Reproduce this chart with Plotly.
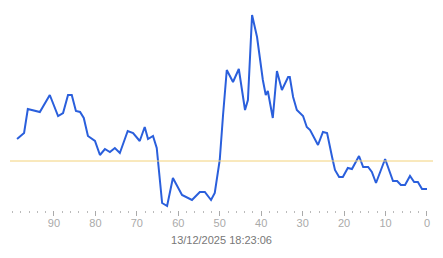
import plotly.graph_objects as go

# seconds ago (x) and measured value (y)
ages = [98.9, 97.2, 96.3, 94.6, 93.4, 91.0, 89.0, 87.8, 86.6, 85.7, 84.7, 83.7, 82.8,
        81.8, 80.1, 78.9, 77.7, 76.5, 75.3, 74.1, 72.2, 70.9, 69.3, 68.1, 67.3, 66.1,
        65.2, 63.9, 62.7, 61.3, 59.1, 56.7, 54.8, 53.6, 52.1, 51.2, 50.0, 49.2, 48.3,
        46.8, 45.4, 43.9, 43.2, 42.2, 41.0, 39.6, 38.9, 38.4, 37.2, 36.2, 35.0, 33.5,
        33.1, 32.3, 31.4, 29.9, 29.0, 28.2, 26.3, 25.1, 24.1, 22.9, 22.2, 21.2, 20.3,
        19.1, 18.1, 16.4, 15.4, 14.2, 13.3, 12.3, 10.1, 8.2, 7.2, 6.3, 5.3, 4.1, 3.1,
        2.2, 1.2, 0.0]
values = [71, 77, 101, 99, 98, 115, 94, 97, 115, 115, 99, 98, 92,
          74, 69, 55, 61, 58, 62, 57, 79, 77, 69, 83, 71, 74,
          62, 7, 4, 32, 15, 10, 18, 18, 10, 17, 50, 95, 140,
          128, 141, 100, 110, 195, 173, 130, 115, 119, 92, 139, 120, 133,
          133, 113, 100, 94, 83, 80, 65, 78, 77, 53, 40, 33, 33,
          42, 41, 54, 43, 43, 38, 27, 51, 29, 29, 25, 25, 34, 28,
          28, 21, 21]
reference_value = 49
x_tick_vals = [90, 80, 70, 60, 50, 40, 30, 20, 10, 0]
x_tick_text = ["90", "80", "70", "60", "50", "40", "30", "20", "10", "0"]
title_text = "13/12/2025 18:23:06"

fig = go.Figure()
fig.add_trace(go.Scatter(x=ages, y=values, mode="lines",
                         line=dict(color="#2a5fdc", width=2), hoverinfo="skip"))
fig.add_hline(y=reference_value, line=dict(color="#f3d27a", width=1))

fig.update_layout(
    width=443, height=258,
    margin=dict(l=10, r=10, t=10, b=48),
    paper_bgcolor="white", plot_bgcolor="white",
    showlegend=False,
    font=dict(family="Liberation Sans, Arial, sans-serif", size=11, color="#aaaaaa"),
    xaxis=dict(range=[100.6, -1.45], showgrid=False, zeroline=False, showline=False,
               tickmode="array", tickvals=x_tick_vals, ticktext=x_tick_text,
               ticks="outside", ticklen=5, tickwidth=1, tickcolor="#aaaaaa",
               ticklabelstandoff=-2,
               tickfont=dict(size=11, color="#aaaaaa"),
               minor=dict(dtick=2, tick0=0, ticks="outside", ticklen=2, tickwidth=1,
                          tickcolor="#bbbbbb", showgrid=False),
               title=dict(text=title_text, font=dict(size=11, color="#777777"),
                          standoff=8)),
    yaxis=dict(range=[0, 200], showgrid=False, zeroline=False, showline=False,
               showticklabels=False, ticks=""),
)

fig.write_html("out.html")
